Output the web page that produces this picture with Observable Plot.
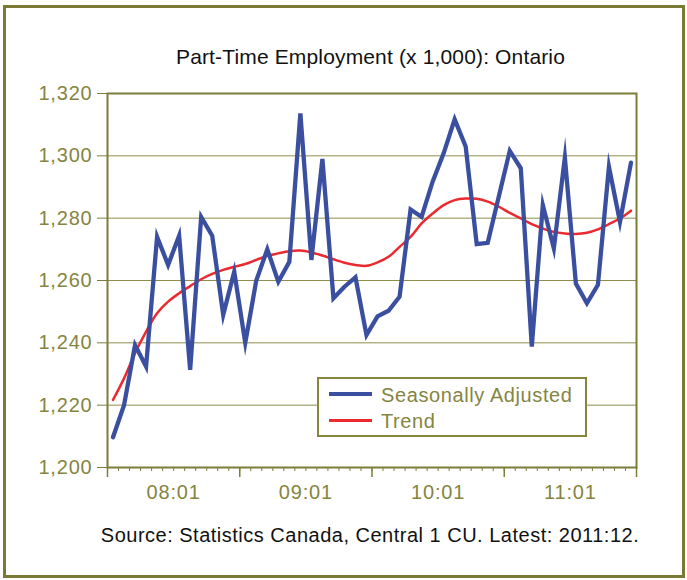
<!DOCTYPE html>
<html>
<head>
<meta charset="utf-8">
<script src="https://cdn.jsdelivr.net/npm/d3@7"></script>
<script src="https://cdn.jsdelivr.net/npm/@observablehq/plot@0.6"></script>
<style>
  html, body { margin: 0; padding: 0; background: #fff; }
  #wrap { position: relative; width: 687px; height: 580px; font-family: "Liberation Sans", Arial, sans-serif; overflow: hidden; }
  #border { position: absolute; left: 3px; top: 5px; width: 676px; height: 567px; border: 3px solid #7a7a36; }
  #title { position: absolute; left: 0; width: 741px; top: 45px; text-align: center; font-size: 21px; letter-spacing: 0.15px; color: #111; }
  #caption { position: absolute; left: 0; width: 740px; top: 524px; text-align: center; font-size: 20px; letter-spacing: 0.5px; color: #111; }
  #chart { position: absolute; left: 0; top: 0; }
  #legend { position: absolute; left: 317px; top: 377px; width: 266px; height: 56px; border: 2px solid #86863f; background: #fff; }
  .li { position: absolute; left: 62px; font-size: 20px; letter-spacing: 0.6px; color: #85853f; white-space: nowrap; }
  .sw { position: absolute; left: 10px; width: 43px; }
</style>
</head>
<body>
<div id="wrap">
  <div id="border"></div>
  <div id="chart"></div>
  <div id="title">Part-Time Employment (x 1,000): Ontario</div>
  <div id="legend">
    <div class="sw" style="top:13px;height:4px;background:#3b4fa0"></div>
    <div class="li" style="top:5px">Seasonally Adjusted</div>
    <div class="sw" style="top:40px;height:3px;background:#ea2a2f"></div>
    <div class="li" style="top:31px">Trend</div>
  </div>
  <div id="caption">Source: Statistics Canada, Central 1 CU. Latest: 2011:12.</div>
</div>
<script>
// Months 2008:01 .. 2011:12
const months = [
  "2008:01","2008:02","2008:03","2008:04","2008:05","2008:06","2008:07","2008:08","2008:09","2008:10","2008:11","2008:12",
  "2009:01","2009:02","2009:03","2009:04","2009:05","2009:06","2009:07","2009:08","2009:09","2009:10","2009:11","2009:12",
  "2010:01","2010:02","2010:03","2010:04","2010:05","2010:06","2010:07","2010:08","2010:09","2010:10","2010:11","2010:12",
  "2011:01","2011:02","2011:03","2011:04","2011:05","2011:06","2011:07","2011:08","2011:09","2011:10","2011:11","2011:12"
];
const seasonallyAdjusted = [
  1209.7, 1220.0, 1239.3, 1232.4, 1274.0, 1265.0, 1274.4, 1231.3, 1280.4, 1274.4, 1249.0, 1262.8,
  1240.0, 1260.0, 1270.0, 1259.6, 1266.0, 1313.6, 1266.6, 1299.0, 1254.3, 1258.0, 1261.0, 1242.5,
  1248.5, 1250.3, 1254.8, 1282.8, 1280.4, 1291.7, 1300.8, 1311.7, 1303.0, 1271.7, 1272.1, 1286.9,
  1301.6, 1296.0, 1238.8, 1284.2, 1270.3, 1299.5, 1259.0, 1252.7, 1258.6, 1296.5, 1278.8, 1297.8
];
const trend = [
  1221.7, 1228.6, 1236.7, 1243.6, 1249.5, 1253.2, 1255.9, 1258.2, 1260.4, 1262.1, 1263.4, 1264.4,
  1265.3, 1266.6, 1267.9, 1268.7, 1269.4, 1269.6, 1269.0, 1268.0, 1266.8, 1265.7, 1265.0, 1264.7,
  1265.8, 1267.6, 1270.8, 1274.0, 1278.3, 1281.5, 1284.2, 1285.8, 1286.3, 1286.2, 1285.3, 1283.7,
  1281.7, 1279.9, 1278.1, 1276.7, 1275.6, 1275.1, 1274.9, 1275.3, 1276.4, 1278.1, 1279.9, 1282.4
];
const xTickLabels = ["08:01", "09:01", "10:01", "11:01"];
const yTicks = [1200, 1220, 1240, 1260, 1280, 1300, 1320];

const data = months.map((m, i) => ({month: m, i, sa: seasonallyAdjusted[i], trend: trend[i]}));
const boundaries = d3.range(months.length + 1).map(k => k - 0.5);
const majors = boundaries.filter((b, k) => k % 12 === 0);
const labelPos = xTickLabels.map(l => months.indexOf("20" + l) + 5.5);

const olive = "#7d7d3a";
const textOlive = "#85853f";

const chart = Plot.plot({
  width: 687,
  height: 580,
  marginLeft: 107,
  marginRight: 51,
  marginTop: 93,
  marginBottom: 113,
  style: {fontFamily: "'Liberation Sans', Arial, sans-serif", background: "transparent", overflow: "visible", letterSpacing: "0.8px"},
  x: {domain: [-0.5, months.length - 0.5]},
  y: {domain: [1200, 1320]},
  marks: [
    Plot.gridY(yTicks, {stroke: "#8e8e4c", strokeOpacity: 1, strokeWidth: 1}),
    Plot.axisY(yTicks, {tickSize: 10, tickPadding: 5, tickFormat: d3.format(","), fontSize: 20, color: textOlive, stroke: olive, strokeWidth: 1, label: null}),
    Plot.axisX(boundaries, {tickSize: 4, tickFormat: () => "", stroke: olive, strokeWidth: 1, label: null}),
    Plot.axisX(majors, {tickSize: 10, tickFormat: () => "", stroke: olive, strokeWidth: 1.5, label: null}),
    Plot.axisX(labelPos, {tickSize: 0, tickPadding: 17, tickFormat: (d, k) => xTickLabels[k], fontSize: 20, color: textOlive, label: null}),
    Plot.frame({stroke: olive, strokeWidth: 2}),
    Plot.line(data, {x: "i", y: "trend", stroke: "#ea2a2f", strokeWidth: 2.5, curve: "catmull-rom"}),
    Plot.line(data, {x: "i", y: "sa", stroke: "#3b4fa0", strokeWidth: 4.3, strokeLinejoin: "miter", strokeMiterlimit: 10})
  ]
});
document.getElementById("chart").appendChild(chart);
</script>
</body>
</html>
